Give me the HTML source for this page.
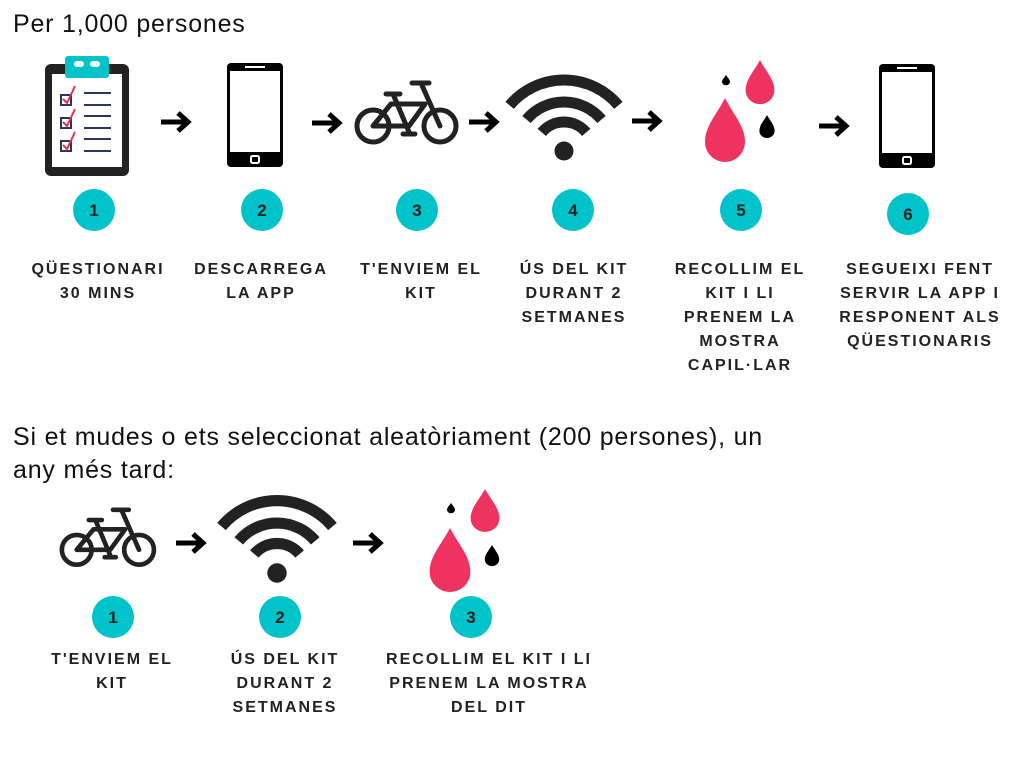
<!DOCTYPE html>
<html><head><meta charset="utf-8"><style>
html,body{margin:0;padding:0;background:#fff;}
body{width:1024px;height:768px;position:relative;overflow:hidden;font-family:"Liberation Sans",sans-serif;}
.h{position:absolute;left:13px;font-size:25px;letter-spacing:0.8px;color:#111;line-height:33px;}
.l{position:absolute;font-weight:bold;font-size:16px;letter-spacing:2px;line-height:24px;text-align:center;color:#222;width:200px;}
svg{position:absolute;left:0;top:0;}
</style></head><body>
<svg width="1024" height="768" viewBox="0 0 1024 768">
<defs>
<g id="arrow"><path d="M0 0H27M17 -9L27 0L17 9" fill="none" stroke="#000" stroke-width="5" stroke-linejoin="miter"/></g>
<g id="phone"><rect x="0" y="0" width="56" height="104" rx="4" fill="#000"/><rect x="3" y="8" width="50" height="81" fill="#fff"/><rect x="18" y="3" width="20" height="2" fill="#fff"/><rect x="24" y="93" width="8" height="7" rx="1.5" fill="none" stroke="#fff" stroke-width="2"/></g>
<g id="bike" fill="none" stroke="#222" stroke-width="5" stroke-linecap="round" stroke-linejoin="round">
<circle cx="18" cy="46" r="16"/><circle cx="85" cy="46" r="16"/>
<path d="M57 3H74M66 3L85 46M31 14H45M38 14L54 52M36 24H70M70 24L54 46M18 46H54M36 24L18 46M48 54H60"/>
</g>
<g id="wifi" fill="none" stroke="#222" stroke-width="11">
<path d="M-54.4 -45.6A71 71 0 0 1 54.4 -45.6"/>
<path d="M-37.5 -31.5A49 49 0 0 1 37.5 -31.5"/>
<path d="M-22.2 -18.6A29 29 0 0 1 22.2 -18.6"/>
<circle cx="0" cy="0" r="9.5" fill="#222" stroke="none"/>
</g>
<path id="drop" d="M0 0C8 16 20 28 20 44A20 20 0 0 1 -20 44C-20 28 -8 16 0 0Z"/>
</defs>
<!-- clipboard -->
<rect x="45" y="64" width="84" height="112" rx="6" fill="#222"/>
<rect x="52" y="74" width="70" height="93" fill="#fff"/>
<rect x="65" y="56" width="44" height="22" rx="3" fill="#00c2c9"/>
<rect x="74" y="61" width="10" height="6" rx="3" fill="#fff"/>
<rect x="90" y="61" width="10" height="6" rx="3" fill="#fff"/>
<g fill="none" stroke="#2a3560" stroke-width="2">
<rect x="61" y="95" width="10" height="10"/><rect x="61" y="118" width="10" height="10"/><rect x="61" y="141" width="10" height="10"/>
<path d="M84 93H111M84 105H111M84 116H111M84 128H111M84 139H111M84 151H111"/>
</g>
<g fill="none" stroke="#e0334f" stroke-width="2"><path d="M63 99L67 103L75 86M63 122L67 126L75 109M63 145L67 149L75 132"/></g>
<use href="#arrow" x="161" y="122"/>
<use href="#phone" x="227" y="63"/>
<use href="#arrow" x="312" y="123"/>
<use href="#bike" transform="translate(355,80)"/>
<use href="#arrow" x="469" y="122"/>
<use href="#wifi" transform="translate(564,151)"/>
<use href="#arrow" x="632" y="121"/>
<use href="#drop" fill="#ef3360" transform="translate(725,98)"/>
<use href="#drop" fill="#ef3360" transform="translate(760,60) scale(0.72,0.69)"/>
<use href="#drop" fill="#000" transform="translate(767,115) scale(0.38,0.36)"/>
<use href="#drop" fill="#000" transform="translate(726,75) scale(0.2,0.16)"/>
<use href="#arrow" x="819" y="126"/>
<use href="#phone" x="879" y="64"/>
<g fill="#00c2c9"><circle cx="94" cy="210" r="21"/><circle cx="262" cy="210" r="21"/><circle cx="417" cy="210" r="21"/><circle cx="573" cy="210" r="21"/><circle cx="741" cy="210" r="21"/><circle cx="908" cy="214" r="21"/>
<circle cx="113" cy="617" r="21"/><circle cx="280" cy="617" r="21"/><circle cx="471" cy="617" r="21"/></g>
<g font-family="Liberation Sans" font-weight="bold" font-size="17" fill="#222" text-anchor="middle">
<text x="94" y="216">1</text><text x="262" y="216">2</text><text x="417" y="216">3</text><text x="573" y="216">4</text><text x="741" y="216">5</text><text x="908" y="220">6</text>
<text x="113" y="623">1</text><text x="280" y="623">2</text><text x="471" y="623">3</text>
</g>
<use href="#bike" transform="translate(60,507) scale(0.93)"/>
<use href="#arrow" x="176" y="543"/>
<use href="#wifi" transform="translate(277,573) scale(1.02)"/>
<use href="#arrow" x="353" y="543"/>
<use href="#drop" fill="#ef3360" transform="translate(450,528) scale(1.02,1)"/>
<use href="#drop" fill="#ef3360" transform="translate(485,489) scale(0.72,0.67)"/>
<use href="#drop" fill="#000" transform="translate(492,545) scale(0.36,0.33)"/>
<use href="#drop" fill="#000" transform="translate(451,503) scale(0.2,0.16)"/>
</svg>
<div class="h" style="top:8px">Per 1,000 persones</div>
<div class="h" style="top:421px">Si et mudes o ets seleccionat aleatòriament (200 persones), un<br>any més tard:</div>
<div class="l" style="left:-2px;top:258px">QÜESTIONARI<br>30 MINS</div>
<div class="l" style="left:161px;top:258px">DESCARREGA<br>LA APP</div>
<div class="l" style="left:321px;top:258px">T'ENVIEM EL<br>KIT</div>
<div class="l" style="left:474px;top:258px">ÚS DEL KIT<br>DURANT 2<br>SETMANES</div>
<div class="l" style="left:640px;top:258px">RECOLLIM EL<br>KIT I LI<br>PRENEM LA<br>MOSTRA<br>CAPIL·LAR</div>
<div class="l" style="left:820px;top:258px">SEGUEIXI FENT<br>SERVIR LA APP I<br>RESPONENT ALS<br>QÜESTIONARIS</div>
<div class="l" style="left:12px;top:648px">T'ENVIEM EL<br>KIT</div>
<div class="l" style="left:185px;top:648px">ÚS DEL KIT<br>DURANT 2<br>SETMANES</div>
<div class="l" style="left:369px;top:648px;width:240px">RECOLLIM EL KIT I LI<br>PRENEM LA MOSTRA<br>DEL DIT</div>
</body></html>
